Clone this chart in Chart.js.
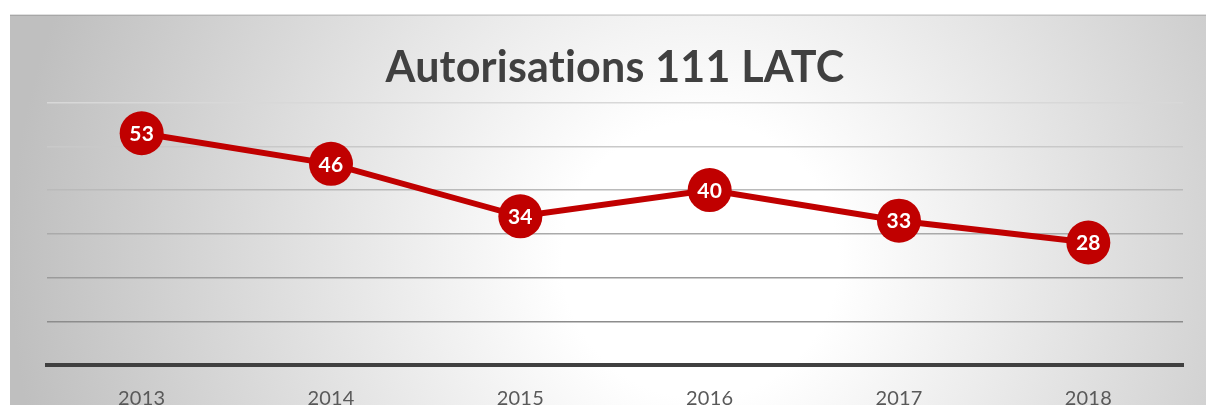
<!DOCTYPE html>
<html><head><meta charset="utf-8">
<script src="https://cdn.jsdelivr.net/npm/chart.js@4/dist/chart.umd.min.js"></script>
<style>html,body{margin:0;padding:0;background:#fff;overflow:hidden}#wrap{width:1206px;height:405px;position:relative}</style>
</head><body><div id="wrap"><canvas id="c" width="1206" height="405"></canvas></div>
<script>
const years = ['2013', '2014', '2015', '2016', '2017', '2018'];
const authorisations = [53, 46, 34, 40, 33, 28];
const yTicks = [0, 10, 20, 30, 40, 50, 60];
const gridColors = ['rgba(0,0,0,0)', '#8c8c8c', '#9b9b9b', '#aaaaaa', '#bababa', '#c9c9c9', '#d8d8d8'];
const titleText = 'Autorisations 111 LATC';

const bgPlugin = {
  id: 'bg',
  beforeDraw(chart) {
    const ctx = chart.ctx;
    ctx.save();
    ctx.fillStyle = '#ffffff';
    ctx.fillRect(0, 0, chart.width, chart.height);
    const g = ctx.createRadialGradient(700, 260, 0, 700, 260, 690);
    g.addColorStop(0, '#ffffff');
    g.addColorStop(0.2, '#ffffff');
    g.addColorStop(1, '#bfbfbf');
    ctx.fillStyle = g;
    ctx.fillRect(10, 15, chart.width - 10, chart.height - 15);
    ctx.fillStyle = 'rgba(0,0,0,0.12)';
    ctx.fillRect(10, 14, chart.width - 10, 2);
    ctx.restore();
    ctx.letterSpacing = '0.2px';
  }
};

const labelPlugin = {
  id: 'vlabels',
  afterDatasetsDraw(chart) {
    const ctx = chart.ctx;
    const meta = chart.getDatasetMeta(0);
    ctx.save();
    ctx.fillStyle = '#ffffff';
    ctx.font = 'bold 21px Lato';
    ctx.textAlign = 'center';
    ctx.textBaseline = 'middle';
    meta.data.forEach((el, i) => {
      ctx.fillText(String(chart.data.datasets[0].data[i]), el.x, el.y + 1);
    });
    ctx.restore();
  }
};

new Chart(document.getElementById('c'), {
  type: 'line',
  data: {
    labels: years,
    datasets: [{
      data: authorisations,
      borderColor: '#c00000',
      borderWidth: 6,
      pointRadius: 22,
      pointHoverRadius: 22,
      pointBackgroundColor: '#c00000',
      pointBorderWidth: 0,
      tension: 0,
      clip: false
    }]
  },
  options: {
    responsive: false,
    animation: false,
    events: [],
    layout: { padding: { left: 47, right: 23, top: 0, bottom: 0 } },
    plugins: {
      legend: { display: false },
      tooltip: { enabled: false },
      title: {
        display: true,
        text: titleText,
        color: '#404040',
        font: { family: 'Lato', size: 43, weight: 'bold', lineHeight: 1.2 },
        padding: { top: 42, bottom: 9 }
      }
    },
    scales: {
      x: {
        offset: true,
        grid: { display: false, drawTicks: false },
        border: { display: true, color: '#404040', width: 4 },
        ticks: { color: '#595959', font: { family: 'Lato', size: 20 }, padding: 22 },
        afterFit(s) { s.height = 40; }
      },
      y: {
        min: 0,
        max: 60,
        afterBuildTicks(s) { s.ticks = yTicks.map(v => ({ value: v })); },
        ticks: { display: false },
        grid: {
          drawTicks: false,
          lineWidth: 1.5,
          color: (c) => gridColors[yTicks.indexOf(c.tick ? c.tick.value : -1)] || 'rgba(0,0,0,0)'
        },
        border: { display: false },
        afterFit(s) { s.width = 0; }
      }
    }
  },
  plugins: [bgPlugin, labelPlugin]
});
</script>
</body></html>
